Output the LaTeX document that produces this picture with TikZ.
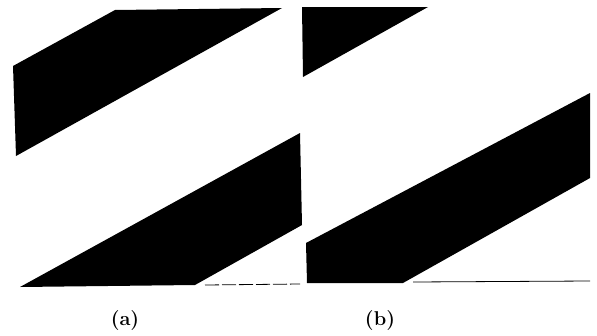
\documentclass[tikz,border=0pt]{standalone}
\usepackage{fontspec}
\tikzset{panellabel/.style={inner sep=0pt, font=\fontsize{20}{24}\selectfont\bfseries}}
\begin{document}
\begin{tikzpicture}[x=1pt,y=-1pt]
    \useasboundingbox (0,0) rectangle (597,335);
    % panel (a)
    \fill [black] (13,66) -- (115,10) -- (282,8) -- (16,156) -- cycle;
    \fill [black] (20,287) -- (300,133) -- (302,225) -- (195,285) -- cycle;
    \draw [black, line width=0.8pt, dash pattern=on 14pt off 3pt] (205,285) -- (300,284);
    \node [panellabel] (lbla) at (125,321) {(a)};
    % panel (b)
    \fill [black] (302,7) -- (428,7) -- (303,77) -- cycle;
    \fill [black] (306,243) -- (590,93) -- (590,178) -- (403,283) -- (307,283) -- cycle;
    \draw [black, line width=0.8pt] (413,282) -- (590,281);
    \node [panellabel] (lblb) at (380,321) {(b)};
\end{tikzpicture}
\end{document}
